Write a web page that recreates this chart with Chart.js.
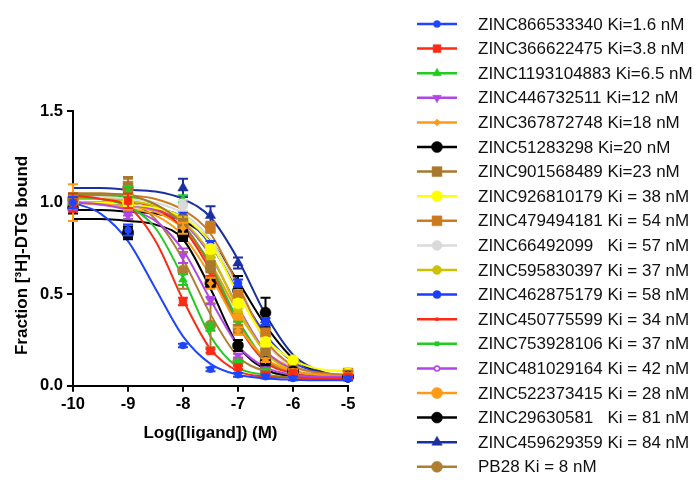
<!DOCTYPE html>
<html><head><meta charset="utf-8">
<script src="https://cdn.jsdelivr.net/npm/chart.js@4"></script>
<style>html,body{margin:0;padding:0;background:#fff}</style>
</head><body>
<canvas id="c" width="700" height="484"></canvas>
<script>
// ---- data ----
const logConc = [-10, -9, -8, -7.5, -7, -6.5, -6, -5];
const fitLogConc = [-10, -9.5, -9, -8.5, -8, -7.5, -7, -6.5, -6, -5.5, -5];
const xTickLabels = ['-10', '-9', '-8', '-7', '-6', '-5'];
const yTickLabels = ['0.0', '0.5', '1.0', '1.5'];
const yTitle = 'Fraction [³H]-DTG bound';
const xTitle = 'Log([ligand]) (M)';

const names = [
  'ZINC866533340 Ki=1.6 nM',
  'ZINC366622475 Ki=3.8 nM',
  'ZINC1193104883 Ki=6.5 nM',
  'ZINC446732511 Ki=12 nM',
  'ZINC367872748 Ki=18 nM',
  'ZINC51283298 Ki=20 nM',
  'ZINC901568489 Ki=23 nM',
  'ZINC926810179 Ki = 38 nM',
  'ZINC479494181 Ki = 54 nM',
  'ZINC66492099   Ki = 57 nM',
  'ZINC595830397 Ki = 37 nM',
  'ZINC462875179 Ki = 58 nM',
  'ZINC450775599 Ki = 34 nM',
  'ZINC753928106 Ki = 37 nM',
  'ZINC481029164 Ki = 42 nM',
  'ZINC522373415 Ki = 28 nM',
  'ZINC29630581   Ki = 81 nM',
  'ZINC459629359 Ki = 84 nM',
  'PB28 Ki = 8 nM'
];

// measured fractions bound at logConc
const pts866533340 = [1.00, 0.85, 0.22, 0.09, 0.06, 0.05, 0.04, 0.04];
const pts366622475 = [1.00, 1.01, 0.46, 0.19, 0.10, 0.06, 0.07, 0.05];
const pts1193104883 = [1.02, 1.06, 0.58, 0.32, 0.13, 0.08, 0.06, 0.05];
const pts446732511 = [0.98, 0.93, 0.71, 0.465, 0.165, 0.09, 0.07, 0.05];
const pts367872748 = [1.00, 1.00, 0.86, 0.56, 0.30, 0.14, 0.08, 0.06];
const pts51283298 = [0.97, 0.83, 0.82, 0.56, 0.22, 0.13, 0.08, 0.05];
const pts901568489 = [1.00, 1.09, 0.89, 0.65, 0.31, 0.18, 0.08, 0.06];
const pts926810179 = [1.00, 1.00, 0.90, 0.745, 0.45, 0.24, 0.14, 0.07];
const pts479494181 = [1.02, 1.05, 0.88, 0.865, 0.49, 0.29, 0.10, 0.07];
const pts66492099 = [1.00, 1.03, 0.985, 0.75, 0.50, 0.22, 0.10, 0.06];
const pts595830397 = [1.00, 1.02, 0.90, 0.70, 0.42, 0.20, 0.09, 0.06];
const pts462875179 = [1.00, 0.97, 0.93, 0.77, 0.56, 0.35, 0.10, 0.04];
const pts450775599 = [1.00, 1.00, 0.88, 0.62, 0.30, 0.12, 0.07, 0.05];
const pts753928106 = [1.02, 1.07, 1.02, 0.66, 0.33, 0.14, 0.07, 0.05];
const pts481029164 = [0.98, 0.95, 0.90, 0.72, 0.42, 0.17, 0.08, 0.05];
const pts522373415 = [1.00, 1.00, 0.87, 0.57, 0.38, 0.14, 0.08, 0.07];
const pts29630581 = [1.00, 0.84, 0.83, 0.56, 0.52, 0.40, 0.08, 0.05];
const pts459629359 = [1.00, 1.06, 1.08, 0.93, 0.67, 0.36, 0.12, 0.05];
const ptsPB28 = [1.02, 1.08, 0.63, 0.33, 0.13, 0.09, 0.07, 0.06];

// error bars (SEM) at logConc
const sem866533340 = [0.03, 0.03, 0.01, 0.01, 0.01, 0.01, 0.01, 0.01];
const sem366622475 = [0.05, 0.04, 0.02, 0.01, 0.01, 0.01, 0.01, 0.01];
const sem1193104883 = [0.03, 0.03, 0.03, 0.02, 0.01, 0.01, 0.01, 0.01];
const sem446732511 = [0.02, 0.02, 0.04, 0.02, 0.01, 0.01, 0.01, 0.01];
const sem367872748 = [0.10, 0.04, 0.03, 0.03, 0.02, 0.01, 0.01, 0.01];
const sem51283298 = [0.03, 0.03, 0.03, 0.02, 0.03, 0.02, 0.01, 0.01];
const sem901568489 = [0.03, 0.05, 0.04, 0.03, 0.02, 0.02, 0.01, 0.01];
const sem926810179 = [0.02, 0.02, 0.02, 0.02, 0.02, 0.02, 0.01, 0.01];
const sem479494181 = [0.03, 0.03, 0.03, 0.03, 0.03, 0.02, 0.01, 0.01];
const sem66492099 = [0.02, 0.02, 0.03, 0.02, 0.02, 0.02, 0.01, 0.01];
const sem595830397 = [0.02, 0.02, 0.02, 0.02, 0.02, 0.02, 0.01, 0.01];
const sem462875179 = [0.02, 0.02, 0.02, 0.02, 0.02, 0.02, 0.01, 0.01];
const sem450775599 = [0.02, 0.02, 0.02, 0.02, 0.02, 0.01, 0.01, 0.01];
const sem753928106 = [0.02, 0.03, 0.02, 0.02, 0.02, 0.01, 0.01, 0.01];
const sem481029164 = [0.02, 0.02, 0.02, 0.02, 0.02, 0.01, 0.01, 0.01];
const sem522373415 = [0.02, 0.03, 0.02, 0.02, 0.02, 0.01, 0.01, 0.01];
const sem29630581 = [0.02, 0.03, 0.03, 0.02, 0.08, 0.08, 0.01, 0.01];
const sem459629359 = [0.02, 0.03, 0.05, 0.05, 0.03, 0.03, 0.01, 0.01];
const semPB28 = [0.03, 0.05, 0.10, 0.12, 0.02, 0.01, 0.01, 0.01];

// fitted curve values read at fitLogConc
const fit866533340 = [1.00, 0.94, 0.79, 0.53, 0.27, 0.12, 0.06, 0.04, 0.033, 0.03, 0.03];
const fit366622475 = [1.04, 1.02, 0.98, 0.79, 0.47, 0.20, 0.08, 0.05, 0.045, 0.04, 0.04];
const fit1193104883 = [1.03, 1.02, 0.98, 0.86, 0.59, 0.27, 0.10, 0.06, 0.045, 0.04, 0.04];
const fit446732511 = [1.00, 0.99, 0.96, 0.90, 0.74, 0.47, 0.22, 0.10, 0.06, 0.05, 0.05];
const fit367872748 = [1.00, 0.99, 0.97, 0.93, 0.82, 0.60, 0.33, 0.15, 0.08, 0.06, 0.05];
const fit51283298 = [0.91, 0.91, 0.90, 0.88, 0.80, 0.53, 0.22, 0.09, 0.05, 0.04, 0.04];
const fit901568489 = [1.05, 1.05, 1.04, 0.99, 0.88, 0.65, 0.34, 0.14, 0.08, 0.06, 0.05];
const fit926810179 = [1.00, 1.00, 0.99, 0.97, 0.92, 0.78, 0.50, 0.26, 0.14, 0.09, 0.08];
const fit479494181 = [1.05, 1.05, 1.04, 1.02, 0.96, 0.83, 0.55, 0.25, 0.11, 0.07, 0.06];
const fit66492099 = [1.03, 1.03, 1.02, 1.00, 0.94, 0.80, 0.53, 0.24, 0.10, 0.06, 0.05];
const fit595830397 = [1.02, 1.02, 1.01, 0.98, 0.90, 0.72, 0.42, 0.18, 0.08, 0.06, 0.05];
const fit462875179 = [1.00, 1.00, 0.99, 0.97, 0.92, 0.77, 0.52, 0.28, 0.13, 0.07, 0.05];
const fit450775599 = [1.02, 1.02, 1.01, 0.97, 0.86, 0.63, 0.33, 0.13, 0.07, 0.05, 0.04];
const fit753928106 = [1.04, 1.04, 1.03, 0.99, 0.88, 0.66, 0.36, 0.14, 0.07, 0.05, 0.04];
const fit481029164 = [1.00, 1.00, 0.99, 0.96, 0.89, 0.71, 0.43, 0.19, 0.09, 0.06, 0.05];
const fit522373415 = [1.00, 0.99, 0.98, 0.95, 0.86, 0.67, 0.40, 0.19, 0.10, 0.07, 0.06];
const fit29630581 = [0.96, 0.96, 0.95, 0.94, 0.90, 0.79, 0.57, 0.33, 0.15, 0.07, 0.05];
const fit459629359 = [1.08, 1.08, 1.07, 1.06, 1.02, 0.92, 0.69, 0.39, 0.17, 0.08, 0.05];
const fitPB28 = [1.05, 1.04, 1.01, 0.91, 0.69, 0.39, 0.16, 0.08, 0.06, 0.05, 0.05];

const pointSets = [pts866533340, pts366622475, pts1193104883, pts446732511, pts367872748, pts51283298,
  pts901568489, pts926810179, pts479494181, pts66492099, pts595830397, pts462875179, pts450775599,
  pts753928106, pts481029164, pts522373415, pts29630581, pts459629359, ptsPB28];
const semSets = [sem866533340, sem366622475, sem1193104883, sem446732511, sem367872748, sem51283298,
  sem901568489, sem926810179, sem479494181, sem66492099, sem595830397, sem462875179, sem450775599,
  sem753928106, sem481029164, sem522373415, sem29630581, sem459629359, semPB28];
const fitSets = [fit866533340, fit366622475, fit1193104883, fit446732511, fit367872748, fit51283298,
  fit901568489, fit926810179, fit479494181, fit66492099, fit595830397, fit462875179, fit450775599,
  fit753928106, fit481029164, fit522373415, fit29630581, fit459629359, fitPB28];

// ---- styles ----
const styles = [
  {c:'#1F45FF', s:'circle', r:3.5},
  {c:'#FF2A14', s:'rect', r:5.5},
  {c:'#1FCC1F', s:'triangle', r:5},
  {c:'#B245E6', s:'triangle', r:5, rot:180},
  {c:'#FF9A14', s:'rectRot', r:3.5},
  {c:'#000000', s:'circle', r:5.5},
  {c:'#A9782F', s:'rect', r:7},
  {c:'#FFFF00', s:'circle', r:5.5},
  {c:'#CC7A1E', s:'rect', r:7},
  {c:'#DADADA', s:'circle', r:5},
  {c:'#CCC200', s:'circle', r:4.5},
  {c:'#1C3CFF', s:'circle', r:4},
  {c:'#FF2A14', s:'rect', r:2},
  {c:'#1FCC1F', s:'rect', r:3},
  {c:'#B245E6', s:'circle', r:2.5, hollow:true},
  {c:'#FF9A14', s:'circle', r:5.5},
  {c:'#000000', s:'circle', r:5.5},
  {c:'#1A2FA0', s:'triangle', r:6},
  {c:'#AE7E32', s:'circle', r:5.5}
];

const FONT = '"Liberation Sans", Arial, sans-serif';

const datasets = [];
names.forEach((name, i) => {
  const st = styles[i];
  datasets.push({
    type: 'scatter', label: name,
    data: logConc.map((x, j) => ({x: x, y: pointSets[i][j]})),
    showLine: false, pointStyle: st.s, rotation: st.rot || 0,
    pointRadius: st.r, backgroundColor: st.hollow ? '#ffffff' : st.c,
    borderColor: st.c, borderWidth: st.hollow ? 1.5 : 0.5,
    errs: semSets[i], order: 1, clip: false
  });
});
names.forEach((name, i) => {
  const st = styles[i];
  datasets.push({
    type: 'line', label: name + ' fit',
    data: fitLogConc.map((x, j) => ({x: x, y: fitSets[i][j]})),
    borderColor: st.c, borderWidth: 2, pointRadius: 0,
    cubicInterpolationMode: 'monotone', fill: false, order: 2
  });
});

const errorBars = {
  id: 'errorBars',
  beforeDatasetDraw(chart, args) {
    const ds = chart.data.datasets[args.index];
    if (!ds.errs) return;
    const ys = chart.scales.y, ctx = chart.ctx;
    ctx.save();
    ctx.strokeStyle = ds.borderColor; ctx.lineWidth = 2;
    args.meta.data.forEach((pt, j) => {
      const e = ds.errs[j]; if (!e) return;
      const v = ds.data[j].y;
      const t = ys.getPixelForValue(v + e), b = ys.getPixelForValue(v - e);
      ctx.beginPath();
      ctx.moveTo(pt.x, t); ctx.lineTo(pt.x, b);
      ctx.moveTo(pt.x - 5, t); ctx.lineTo(pt.x + 5, t);
      ctx.moveTo(pt.x - 5, b); ctx.lineTo(pt.x + 5, b);
      ctx.stroke();
    });
    ctx.restore();
  }
};

const yTitlePlugin = {
  id: 'yTitlePlugin',
  afterDraw(chart) {
    const ctx = chart.ctx;
    const ca = chart.chartArea;
    ctx.save();
    ctx.translate(22, (ca.top + ca.bottom) / 2 + 7);
    ctx.rotate(-Math.PI / 2);
    ctx.fillStyle = '#000';
    ctx.font = 'bold 17px ' + FONT;
    ctx.textAlign = 'center'; ctx.textBaseline = 'middle';
    ctx.fillText(yTitle, 0, 0);
    ctx.restore();
  }
};

const sideLegend = {
  id: 'sideLegend',
  afterDraw(chart) {
    const ctx = chart.ctx;
    const top = 24, step = 24.6, x0 = 417, x1 = 457, tx = 478;
    ctx.save();
    names.forEach((name, i) => {
      const st = styles[i];
      const y = top + i * step;
      ctx.strokeStyle = st.c; ctx.lineWidth = 2.5;
      ctx.beginPath(); ctx.moveTo(x0, y); ctx.lineTo(x1, y); ctx.stroke();
      ctx.fillStyle = st.hollow ? '#ffffff' : st.c;
      ctx.strokeStyle = st.c; ctx.lineWidth = st.hollow ? 1.5 : 0.5;
      Chart.helpers.drawPoint(ctx, {pointStyle: st.s, rotation: st.rot || 0, radius: st.r, borderWidth: st.hollow ? 1.5 : 0.5}, (x0 + x1) / 2, y);
      ctx.fillStyle = '#111111';
      ctx.font = '17px ' + FONT;
      ctx.textBaseline = 'middle'; ctx.textAlign = 'left';
      ctx.fillText(name, tx, y + 1);
    });
    ctx.restore();
  }
};

new Chart(document.getElementById('c'), {
  type: 'scatter',
  data: {datasets: datasets},
  options: {
    responsive: false, animation: false, events: [],
    layout: {padding: {left: 0, right: 352, top: 111, bottom: 40}},
    plugins: {legend: {display: false}, tooltip: {enabled: false}},
    scales: {
      x: {
        type: 'linear', min: -10, max: -5,
        afterBuildTicks: (s) => { s.ticks = xTickLabels.map(v => ({value: Number(v)})); },
        ticks: {color: '#000', font: {family: FONT, weight: 'bold', size: 16.5}, padding: 3,
          callback: (v) => String(v)},
        grid: {drawOnChartArea: false, color: '#000', lineWidth: 2, tickLength: 6},
        border: {color: '#000', width: 2},
        title: {display: true, text: xTitle, color: '#000',
          font: {family: FONT, weight: 'bold', size: 17}, padding: {top: 6, bottom: 0}}
      },
      y: {
        min: 0, max: 1.5,
        afterBuildTicks: (s) => { s.ticks = yTickLabels.map(v => ({value: Number(v)})); },
        afterFit: (s) => { s.width = 73; },
        ticks: {color: '#000', font: {family: FONT, weight: 'bold', size: 16.5}, padding: 4,
          callback: (v) => Number(v).toFixed(1)},
        grid: {drawOnChartArea: false, color: '#000', lineWidth: 2, tickLength: 6},
        border: {color: '#000', width: 2},
        title: {display: false}
      }
    }
  },
  plugins: [errorBars, yTitlePlugin, sideLegend]
});
</script>
</body></html>
